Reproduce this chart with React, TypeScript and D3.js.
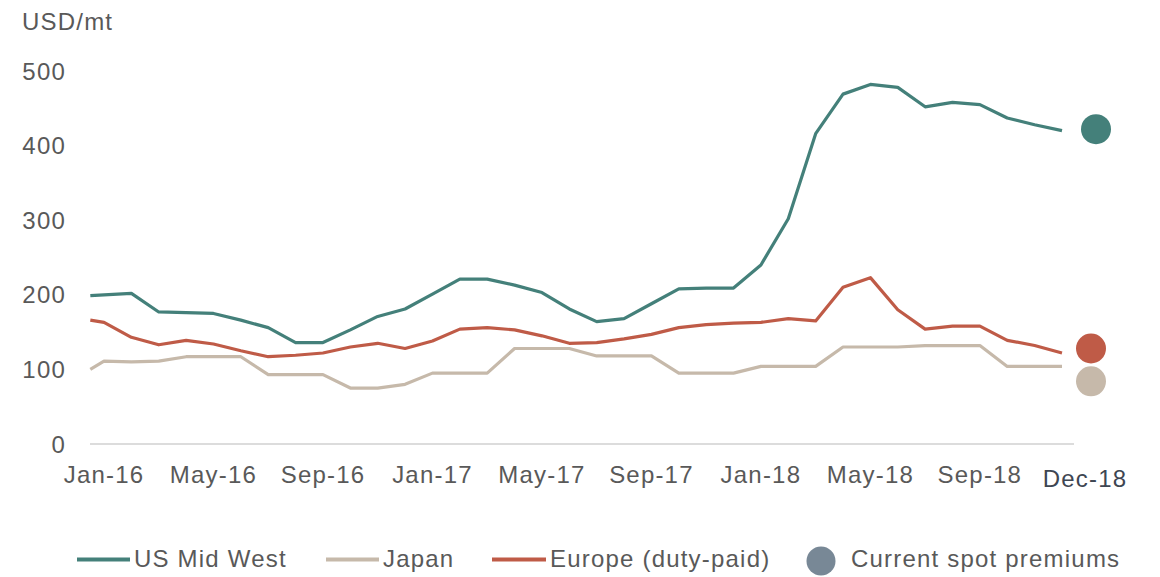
import React from "react";
import * as d3 from "d3";

const monthIdx = [-0.5, 0, 1, 2, 3, 4, 5, 6, 7, 8, 9, 10, 11, 12, 13, 14, 15, 16, 17, 18, 19, 20, 21, 22, 23, 24, 25, 26, 27, 28, 29, 30, 31, 32, 33, 34, 35];

const usMidWest = [199, 200, 202, 177, 176, 175, 166, 156, 136, 136, 153, 171, 181, 201, 221, 221, 213, 203, 181, 164, 168, 188, 208, 209, 209, 240, 302, 416, 469, 482, 478, 452, 458, 455, 437, 428, 420];
const japan = [100, 111, 110, 111, 117, 117, 117, 93, 93, 93, 75, 75, 80, 95, 95, 95, 128, 128, 128, 118, 118, 118, 95, 95, 95, 104, 104, 104, 130, 130, 130, 132, 132, 132, 104, 104, 104];
const europe = [166, 163, 143, 133, 139, 134, 125, 117, 119, 122, 130, 135, 128, 138, 154, 156, 153, 145, 135, 136, 141, 147, 156, 160, 162, 163, 168, 165, 210, 223, 180, 154, 158, 158, 139, 132, 122];

const spotValues = { us: 422, europe: 128, japan: 84 };

const tickMonths = [0, 4, 8, 12, 16, 20, 24, 28, 32];
const tickLabels = ["Jan-16", "May-16", "Sep-16", "Jan-17", "May-17", "Sep-17", "Jan-18", "May-18", "Sep-18"];
const lastLabel = "Dec-18";
const yTicks = [0, 100, 200, 300, 400, 500];

const C_US = "#44807a";
const C_JP = "#c6b9aa";
const C_EU = "#bf5b47";
const C_TEXT = "#595959";

export default function App() {
  const x = d3.scaleLinear().domain([0, 35]).range([104, 1062]);
  const y = d3.scaleLinear().domain([0, 500]).range([444, 71]);
  const line = (vals: number[]) =>
    d3
      .line<number>()
      .x((_, i) => x(monthIdx[i]))
      .y((d) => y(d))(vals) as string;

  const font = "'Liberation Sans', Arial, sans-serif";
  const ls = 1.2;

  return (
    <svg
      width={1160}
      height={577}
      style={{ position: "absolute", left: 0, top: 0, background: "#fff" }}
      fontFamily={font}
    >
      <text x={22} y={30} fontSize={24} fill={C_TEXT} letterSpacing={ls}>
        USD/mt
      </text>
      {yTicks.map((t) => (
        <text key={t} x={66} y={y(t)} dy="0.36em" textAnchor="end" fontSize={24} fill={C_TEXT} letterSpacing={ls}>
          {t}
        </text>
      ))}
      <line x1={90} x2={1074} y1={y(0)} y2={y(0)} stroke="#d0d0d0" strokeWidth={1.5} />
      {tickMonths.map((m, i) => (
        <text key={m} x={x(m)} y={482.5} textAnchor="middle" fontSize={24} fill={C_TEXT} letterSpacing={ls}>
          {tickLabels[i]}
        </text>
      ))}
      <text x={x(35) + 23} y={486.5} textAnchor="middle" fontSize={24} fill="#3e4652" letterSpacing={ls}>
        {lastLabel}
      </text>

      <path d={line(japan)} fill="none" stroke={C_JP} strokeWidth={3.2} strokeLinejoin="round" />
      <path d={line(europe)} fill="none" stroke={C_EU} strokeWidth={3.2} strokeLinejoin="round" />
      <path d={line(usMidWest)} fill="none" stroke={C_US} strokeWidth={3.2} strokeLinejoin="round" />

      <circle cx={x(35) + 34} cy={y(spotValues.us)} r={15} fill={C_US} />
      <circle cx={x(35) + 29} cy={y(spotValues.europe)} r={15} fill={C_EU} />
      <circle cx={x(35) + 29} cy={y(spotValues.japan)} r={15} fill={C_JP} />

      <g fontSize={24} fill={C_TEXT} letterSpacing={ls}>
        <line x1={77} x2={130} y1={559.5} y2={559.5} stroke={C_US} strokeWidth={4} />
        <text x={134} y={567}>US Mid West</text>
        <line x1={326} x2={379} y1={559.5} y2={559.5} stroke={C_JP} strokeWidth={4} />
        <text x={383} y={567}>Japan</text>
        <line x1={492} x2={546} y1={559.5} y2={559.5} stroke={C_EU} strokeWidth={4} />
        <text x={550} y={567}>Europe (duty-paid)</text>
        <circle cx={821} cy={561} r={14.5} fill="#788896" />
        <text x={851} y={567}>Current spot premiums</text>
      </g>
    </svg>
  );
}
